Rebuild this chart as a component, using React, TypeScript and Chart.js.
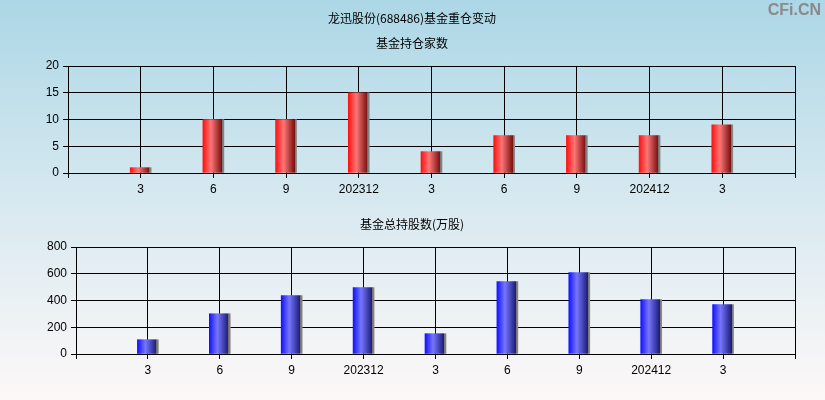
import { useEffect, useRef } from 'react';
import { Chart, registerables, ChartConfiguration } from 'chart.js';

Chart.register(...registerables);

// quarters shown on the x axis
const categories = ['3', '6', '9', '202312', '3', '6', '9', '202412', '3'];
// 基金持仓家数
const holderCounts = [1, 10, 10, 15, 4, 7, 7, 7, 9];
// 基金总持股数(万股)
const totalShares = [107, 301, 436, 496, 152, 541, 608, 406, 369];

const mainTitle = '龙迅股份(688486)基金重仓变动';
const topTitle = '基金持仓家数';
const bottomTitle = '基金总持股数(万股)';

const redStops: [number, string][] = [[0, '#ff1010'], [0.38, '#ff7676'], [0.9, '#7a1212'], [0.91, '#707070'], [1, '#8c8c8c']];
const blueStops: [number, string][] = [[0, '#1212ff'], [0.38, '#7676ff'], [0.9, '#1c1c7a'], [0.91, '#707070'], [1, '#8c8c8c']];

const tickFont = { family: '"Liberation Sans", Arial, sans-serif', size: 12 };
const cjkFont = '12px "Noto Sans CJK SC", sans-serif';

// paint each bar with a horizontal "cylinder" gradient once its position is known
const cylinderPlugin = {
  id: 'cylinder',
  beforeDatasetsDraw: (chart: any, _args: any, opts: any) => {
    const stops: [number, string][] = opts.stops;
    const meta = chart.getDatasetMeta(0);
    meta.data.forEach((el: any) => {
      if (!Number.isFinite(el.x) || !Number.isFinite(el.width)) return;
      const g = chart.ctx.createLinearGradient(el.x - el.width / 2, 0, el.x + el.width / 2, 0);
      stops.forEach(([o, col]) => g.addColorStop(o, col));
      el.options.backgroundColor = g;
    });
  },
};

function makeConfig(values: number[], stops: [number, string][], opts: {
  max: number; step: number; top: number; axisH: number; yW: number;
  texts: { t: string; y: number; font: string; color: string; align: CanvasTextAlign; x: number }[];
}): ChartConfiguration<'bar'> {
  const labels = ['', ...categories, ''];
  const data = [null, ...values, null] as any;
  return {
    type: 'bar',
    data: {
      labels,
      datasets: [{
        data,
        backgroundColor: (() => stops[1][1]) as any,
        borderWidth: 0,
        barThickness: 21,
      }],
    },
    options: {
      responsive: false,
      animation: false,
      layout: { padding: { top: opts.top, right: 30, left: 0, bottom: 0 } },
      plugins: {
        legend: { display: false },
        tooltip: { enabled: false },
        title: { display: false },
        cylinder: { stops },
      } as any,
      scales: {
        x: {
          offset: false,
          grid: { offset: false, color: '#000', lineWidth: 1, tickLength: 5, drawTicks: true },
          border: { color: '#000' },
          ticks: { color: '#000', font: tickFont, padding: 4, maxRotation: 0, autoSkip: false },
          afterFit: (s: any) => { s.height = opts.axisH; },
        },
        y: {
          min: 0,
          max: opts.max,
          grid: { color: '#000', lineWidth: 1, tickLength: 5 },
          border: { color: '#000' },
          ticks: { stepSize: opts.step, color: '#000', font: tickFont, padding: 4 },
          afterFit: (s: any) => { s.width = opts.yW; },
        },
      },
    },
    plugins: [cylinderPlugin, {
      id: 'texts',
      afterDraw: (chart: Chart) => {
        const ctx = chart.ctx;
        ctx.save();
        ctx.textBaseline = 'middle';
        opts.texts.forEach(tx => {
          ctx.font = tx.font;
          ctx.fillStyle = tx.color;
          ctx.textAlign = tx.align;
          ctx.fillText(tx.t, tx.x, tx.y);
        });
        ctx.restore();
      },
    }],
  };
}

export default function App() {
  const topRef = useRef<HTMLCanvasElement>(null);
  const bottomRef = useRef<HTMLCanvasElement>(null);

  useEffect(() => {
    const charts: Chart[] = [];
    if (topRef.current) {
      charts.push(new Chart(topRef.current, makeConfig(holderCounts, redStops, {
        max: 20, step: 5, top: 66, axisH: 27, yW: 68,
        texts: [
          { t: mainTitle, x: 412, y: 18, font: cjkFont, color: '#000', align: 'center' },
          { t: topTitle, x: 412, y: 43, font: cjkFont, color: '#000', align: 'center' },
          { t: 'CFi.CN', x: 821, y: 11, font: 'bold 16px "Liberation Sans", Arial, sans-serif', color: '#8a8a8a', align: 'right' },
        ],
      })));
    }
    if (bottomRef.current) {
      charts.push(new Chart(bottomRef.current, makeConfig(totalShares, blueStops, {
        max: 800, step: 200, top: 47, axisH: 46, yW: 76,
        texts: [
          { t: bottomTitle, x: 412, y: 24, font: cjkFont, color: '#000', align: 'center' },
        ],
      })));
    }
    return () => { charts.forEach(c => c.destroy()); };
  }, []);

  return (
    <div style={{
      position: 'absolute', left: 0, top: 0, width: 825, height: 400,
      background: 'linear-gradient(to bottom, #acd7e6 0%, #d7e9f0 50%, #fdf8f8 100%)',
    }}>
      <canvas ref={topRef} width={825} height={200} style={{ position: 'absolute', left: 0, top: 0 }} />
      <canvas ref={bottomRef} width={825} height={200} style={{ position: 'absolute', left: 0, top: 200 }} />
    </div>
  );
}
